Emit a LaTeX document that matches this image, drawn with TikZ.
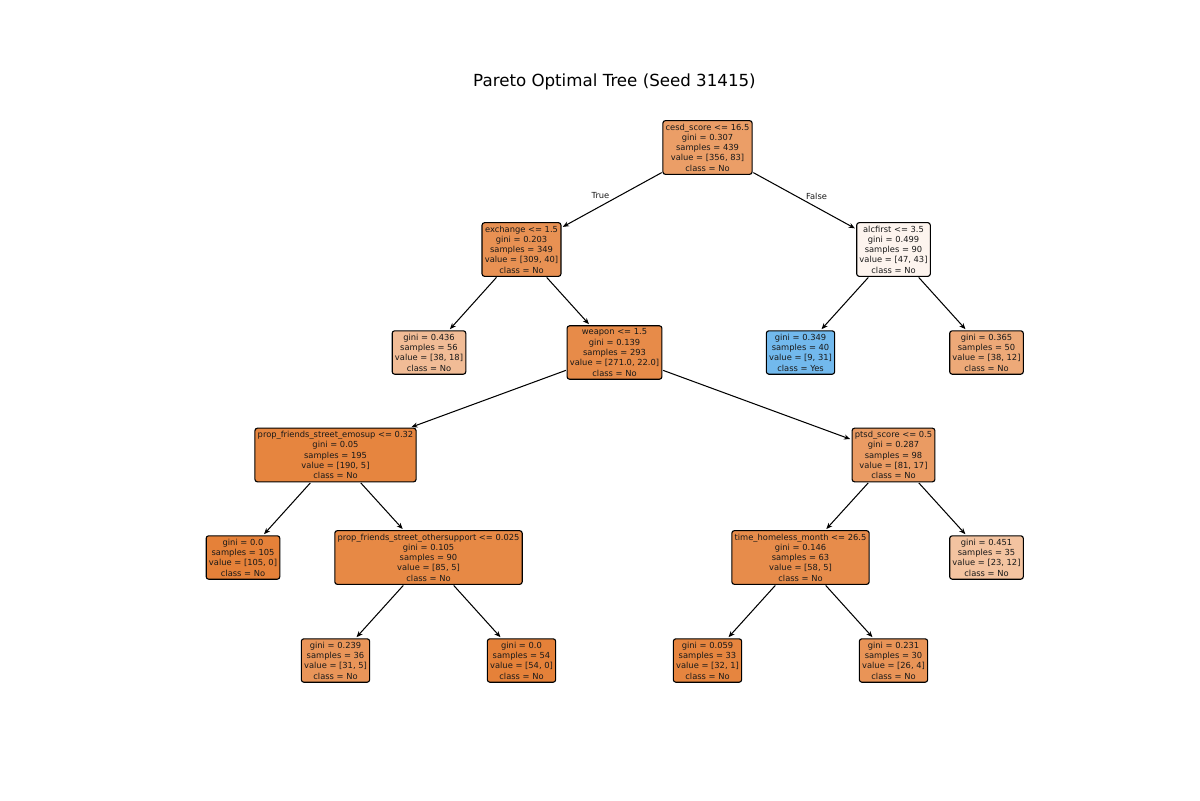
\documentclass[tikz,border=0pt]{standalone}
\usepackage{fontspec}
\setmainfont{DejaVu Sans}
\usetikzlibrary{arrows.meta}
\definecolor{clsno}{RGB}{229,129,57}
\definecolor{clsyes}{RGB}{57,157,229}
\tikzset{
  tn/.style={draw=black, line width=0.8pt, rounded corners=1.8pt, align=center,
    inner xsep=2pt, inner ysep=2.2pt, text=black!90,
    font=\fontsize{6}{7.4}\selectfont},
  edge/.style={line width=0.75pt, -{Stealth[length=4.5pt,width=3.6pt]}, shorten >=1pt, shorten <=0.5pt},
  lbl/.style={font=\fontsize{6}{7.4}\selectfont, text=black!90, inner sep=0pt}
}
\begin{document}
\begin{tikzpicture}[x=0.72pt, y=-0.72pt]
\useasboundingbox (0,0) rectangle (1200,800);
\node[font=\fontsize{12}{14}\selectfont] (title) at (614.5,82) {Pareto Optimal Tree (Seed 31415)};

% level 0
\node[tn, fill=clsno!77!white] (root) at (707.5,147.5)
  {cesd\_score <= 16.5\\gini = 0.307\\samples = 439\\value = [356, 83]\\class = No};
% level 1
\node[tn, fill=clsno!87!white] (exch) at (521.5,249.5)
  {exchange <= 1.5\\gini = 0.203\\samples = 349\\value = [309, 40]\\class = No};
\node[tn, fill=clsno!8.5!white] (alc) at (893.5,249.5)
  {alcfirst <= 3.5\\gini = 0.499\\samples = 90\\value = [47, 43]\\class = No};
% level 2
\node[tn, fill=clsno!53!white] (l436) at (429,352.5)
  {gini = 0.436\\samples = 56\\value = [38, 18]\\class = No};
\node[tn, fill=clsno!92!white] (weap) at (614.5,352.5)
  {weapon <= 1.5\\gini = 0.139\\samples = 293\\value = [271.0, 22.0]\\class = No};
\node[tn, fill=clsyes!71!white] (l349) at (800.5,352.5)
  {gini = 0.349\\samples = 40\\value = [9, 31]\\class = Yes};
\node[tn, fill=clsno!68!white] (l365) at (986.5,352.5)
  {gini = 0.365\\samples = 50\\value = [38, 12]\\class = No};
% level 3
\node[tn, fill=clsno!97!white] (emo) at (335.5,455)
  {prop\_friends\_street\_emosup <= 0.32\\gini = 0.05\\samples = 195\\value = [190, 5]\\class = No};
\node[tn, fill=clsno!79!white] (ptsd) at (893.5,455)
  {ptsd\_score <= 0.5\\gini = 0.287\\samples = 98\\value = [81, 17]\\class = No};
% level 4
\node[tn, fill=clsno] (l00a) at (243,557.5)
  {gini = 0.0\\samples = 105\\value = [105, 0]\\class = No};
\node[tn, fill=clsno!94!white] (oth) at (428.5,557.5)
  {prop\_friends\_street\_othersupport <= 0.025\\gini = 0.105\\samples = 90\\value = [85, 5]\\class = No};
\node[tn, fill=clsno!91!white] (home) at (800.5,557.5)
  {time\_homeless\_month <= 26.5\\gini = 0.146\\samples = 63\\value = [58, 5]\\class = No};
\node[tn, fill=clsno!48!white] (l451) at (986.5,557.5)
  {gini = 0.451\\samples = 35\\value = [23, 12]\\class = No};
% level 5
\node[tn, fill=clsno!84!white] (l239) at (335.5,660.5)
  {gini = 0.239\\samples = 36\\value = [31, 5]\\class = No};
\node[tn, fill=clsno] (l00b) at (521.5,660.5)
  {gini = 0.0\\samples = 54\\value = [54, 0]\\class = No};
\node[tn, fill=clsno!97!white] (l059) at (707.5,660.5)
  {gini = 0.059\\samples = 33\\value = [32, 1]\\class = No};
\node[tn, fill=clsno!85!white] (l231) at (893.5,660.5)
  {gini = 0.231\\samples = 30\\value = [26, 4]\\class = No};

% connectors
\draw[edge] (root) -- (exch);
\draw[edge] (root) -- (alc);
\draw[edge] (exch) -- (l436);
\draw[edge] (exch) -- (weap);
\draw[edge] (alc) -- (l349);
\draw[edge] (alc) -- (l365);
\draw[edge] (weap) -- (emo);
\draw[edge] (weap) -- (ptsd);
\draw[edge] (emo) -- (l00a);
\draw[edge] (emo) -- (oth);
\draw[edge] (ptsd) -- (home);
\draw[edge] (ptsd) -- (l451);
\draw[edge] (oth) -- (l239);
\draw[edge] (oth) -- (l00b);
\draw[edge] (home) -- (l059);
\draw[edge] (home) -- (l231);

% branch labels
\node[lbl] (ltrue) at (600.5,196) {True};
\node[lbl] (lfalse) at (816.5,196) {False};
\end{tikzpicture}
\end{document}
